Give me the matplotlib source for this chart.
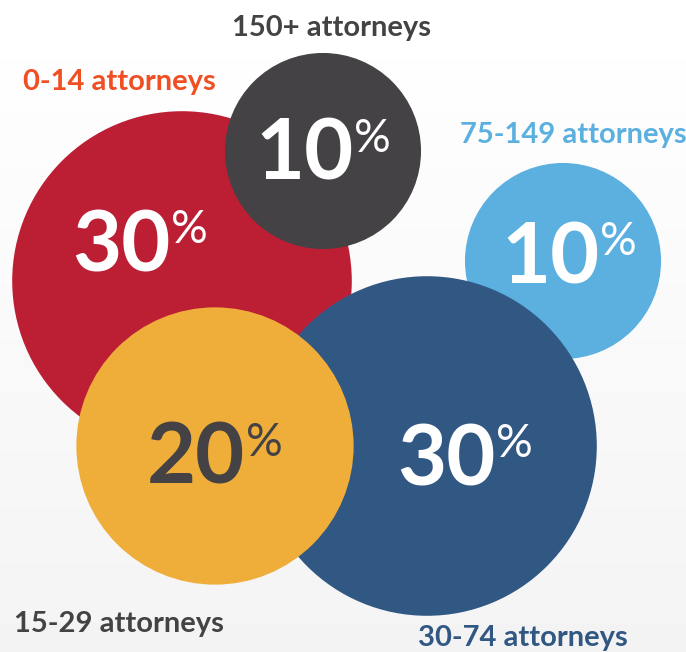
#Bubble chart of firm sizes (share of respondents by number of attorneys).

import matplotlib
matplotlib.use("Agg")
import matplotlib.pyplot as plt
from matplotlib.patches import Circle
import numpy as np

# data
groups = ["0-14 attorneys", "150+ attorneys", "75-149 attorneys", "30-74 attorneys", "15-29 attorneys"]
shares = [30, 10, 10, 30, 20]

# look
circle_colors = ["#bc1e34", "#444244", "#5bb0e0", "#315783", "#efae3a"]
label_colors = ["#f04e23", "#444244", "#5bb0e0", "#315783", "#444244"]
number_colors = ["white", "white", "white", "white", "#444244"]

# layout in pixels (y goes down)
centers = [(182, 281), (323, 151), (563, 261), (427, 446), (215, 446)]
number_pos = [(140, 271), (323, 180), (569, 283), (465, 485), (215, 484)]
label_pos = [(119, 90), (332, 36), (573, 143), (523, 646), (119, 632)]
k = 31.0  # radius = k * sqrt(share)

W, H = 686, 652
fig = plt.figure(figsize=(W / 100, H / 100), dpi=100)
ax = fig.add_axes([0, 0, 1, 1])
ax.set_xlim(0, W)
ax.set_ylim(H, 0)
ax.axis("off")

# soft grey background
grad = np.linspace(1.0, 0.955, 200).reshape(-1, 1)
ax.imshow(grad, cmap="gray", vmin=0, vmax=1, extent=(0, W, H, 0), aspect="auto", zorder=0)

font = "Lato"
num_size = 61
pct_size = 33
cap = 0.72  # cap height of the font, share of the em

for i in range(len(groups)):
    r = k * np.sqrt(shares[i])
    ax.add_patch(Circle(centers[i], r, color=circle_colors[i], zorder=2 + i, lw=0))

fig.canvas.draw()
renderer = fig.canvas.get_renderer()

gap = 1
for i in range(len(groups)):
    gx, gy = number_pos[i]
    num = ax.text(0, gy, str(shares[i]), fontsize=num_size, fontweight="bold", family=font,
                  color=number_colors[i], ha="left", va="baseline", zorder=20)
    pct = ax.text(0, gy, "%", fontsize=pct_size, fontweight="normal", family=font,
                  color=number_colors[i], ha="left", va="baseline", zorder=20)
    wn = num.get_window_extent(renderer).width
    wp = pct.get_window_extent(renderer).width
    total = wn + gap + wp
    left = gx - total / 2
    num.set_x(left)
    pct.set_x(left + wn + gap)
    top = gy - cap * num_size * 100 / 72
    pct.set_y(top + cap * pct_size * 100 / 72)

    lx, ly = label_pos[i]
    ax.text(lx, ly, groups[i], fontsize=21, fontweight="bold", family=font,
            color=label_colors[i], ha="center", va="baseline", zorder=20)

plt.savefig("out.png", dpi=100)
